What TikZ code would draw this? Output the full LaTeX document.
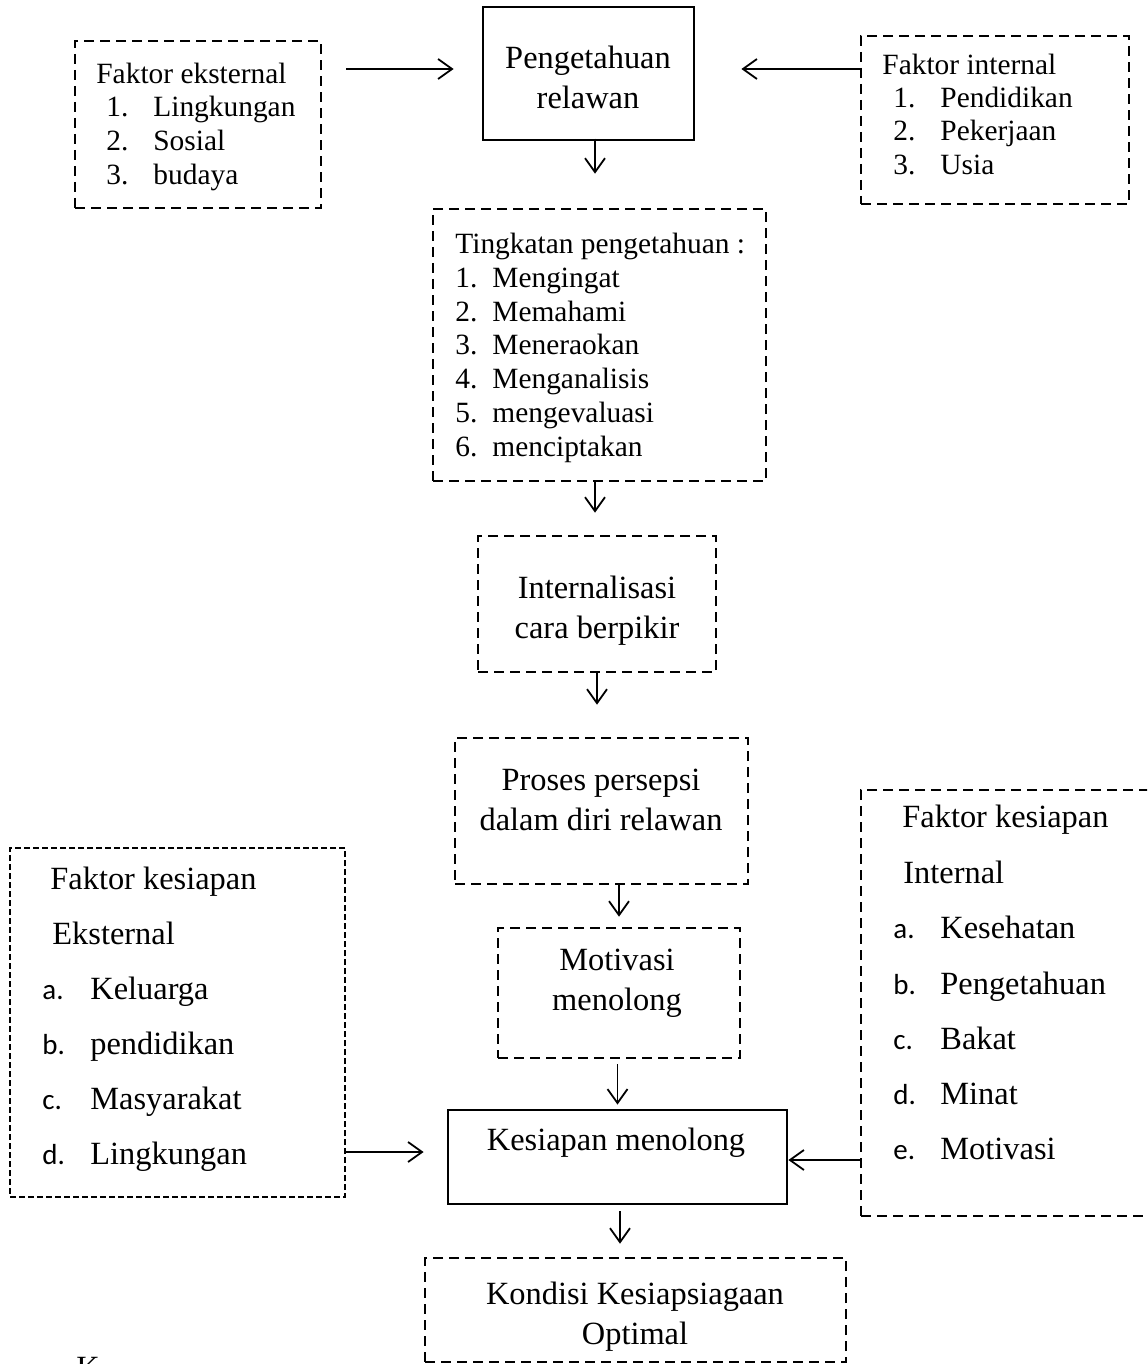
\documentclass[tikz,border=0pt]{standalone}
\usepackage{fontspec}
\setmainfont{Liberation Serif}
\newfontfamily\calibri{Carlito}
\usetikzlibrary{arrows.meta}

\tikzset{
  dbox/.style={draw, dash pattern=on 5pt off 3pt, line width=1.3pt, inner sep=0pt},
  finebox/.style={draw, dash pattern=on 3pt off 1.5pt, line width=1pt, inner sep=0pt},
  sbox/.style={draw, line width=1.4pt, inner sep=0pt},
  txt/.style={anchor=mid west, inner sep=0pt, yshift=-2.5pt, font=\fontsize{14.7}{17}\selectfont},
  bigtxt/.style={anchor=mid west, inner sep=0pt, yshift=-2.5pt, font=\fontsize{16.2}{20}\selectfont},
  ctxt/.style={align=center, inner sep=0pt, font=\fontsize{16.2}{20}\selectfont},
  lbl/.style={anchor=mid west, inner sep=0pt, yshift=-2.5pt, font=\calibri\fontsize{14.5}{17}\selectfont},
  arr/.style={-{Straight Barb[length=7pt,width=10pt]}, line width=0.9pt},
}

\begin{document}
\begin{tikzpicture}[x=0.5pt, y=-0.5pt]
    \useasboundingbox (0,0) rectangle (1147,1364);
    \clip (0,0) rectangle (1147,1364);

    % boxes
    \node[dbox, minimum width=123pt, minimum height=83.5pt] (eks) at (198,124.5) {};
    \node[sbox, minimum width=105.5pt, minimum height=66.5pt] (peng) at (588.5,73.5) {};
    \node[dbox, minimum width=134pt, minimum height=84pt] (intf) at (995,120) {};
    \node[dbox, minimum width=166.5pt, minimum height=136pt] (ting) at (599.5,345) {};
    \node[dbox, minimum width=119pt, minimum height=68pt] (inter) at (597,604) {};
    \node[dbox, minimum width=146.5pt, minimum height=73pt] (pros) at (601.5,811) {};
    \node[dbox, minimum width=121pt, minimum height=65pt] (moti) at (619,993) {};
    \node[sbox, minimum width=169.5pt, minimum height=47pt] (kes) at (617.5,1157) {};
    \node[dbox, minimum width=210.5pt, minimum height=52pt] (kond) at (635.5,1310) {};
    \node[finebox, minimum width=167.5pt, minimum height=174.5pt] (leks) at (177.5,1022.5) {};
    \node[dbox, minimum width=149.5pt, minimum height=213pt] (rint) at (1010.5,1003) {};

    % texts
    \node[ctxt] (peng-t) at (588,77) {Pengetahuan\\relawan};
    \node[ctxt] (inter-t) at (597,611) {Internalisasi\\cara berpikir};
    \node[ctxt] (pros-t) at (601,800) {Proses persepsi\\dalam diri relawan};
    \node[ctxt] (moti-t) at (617,983) {Motivasi\\menolong};
    \node[ctxt] (kes-t) at (616,1143) {Kesiapan menolong};
    \node[ctxt] (kond-t) at (635,1317) {Kondisi Kesiapsiagaan\\Optimal};

    \node[txt] (eks-h) at (96,74) {Faktor eksternal};
    \foreach \t [count=\i] in {Lingkungan,Sosial,budaya} {
        \node[txt] (eks-n\i) at (106,73+34*\i) {\i.};
        \node[txt] (eks-i\i) at (153,73+34*\i) {\t};
    }
    \node[txt] (intf-h) at (882,65) {Faktor internal};
    \foreach \t [count=\i] in {Pendidikan,Pekerjaan,Usia} {
        \node[txt] (intf-n\i) at (893,64+33.5*\i) {\i.};
        \node[txt] (intf-i\i) at (940,64+33.5*\i) {\t};
    }
    \node[txt] (ting-h) at (455,244) {Tingkatan pengetahuan :};
    \foreach \t [count=\i] in {Mengingat,Memahami,Meneraokan,Menganalisis,mengevaluasi,menciptakan} {
        \node[txt] (ting-n\i) at (455,244+33.8*\i) {\i.};
        \node[txt] (ting-i\i) at (492,244+33.8*\i) {\t};
    }
    \node[bigtxt] (leks-h1) at (50,880) {Faktor kesiapan};
    \node[bigtxt] (leks-h2) at (52,935) {Eksternal};
    \foreach \l/\t [count=\i] in {a/Keluarga,b/pendidikan,c/Masyarakat,d/Lingkungan} {
        \node[lbl] (leks-n\i) at (42,935+55*\i) {\l.};
        \node[bigtxt] (leks-i\i) at (90,935+55*\i) {\t};
    }
    \node[bigtxt] (rint-h1) at (902,818) {Faktor kesiapan};
    \node[bigtxt] (rint-h2) at (903,874) {Internal};
    \foreach \l/\t [count=\i] in {a/Kesehatan,b/Pengetahuan,c/Bakat,d/Minat,e/Motivasi} {
        \node[lbl] (rint-n\i) at (893,874+55.2*\i) {\l.};
        \node[bigtxt] (rint-i\i) at (940,874+55.2*\i) {\t};
    }
    \node[bigtxt, anchor=base west] (cut) at (76,1373) {K};

    % arrows
    \draw[arr, shorten <=12pt, shorten >=14pt] (eks.east |- 0,69) -- (peng.west |- 0,69);
    \draw[arr, shorten >=23pt] (intf.west |- 0,69) -- (peng.east |- 0,69);
    \draw[arr, shorten >=17pt] (ting.north -| 595,0) ++(0,-69) -- (ting.north -| 595,0);
    \draw[arr, shorten >=11pt] (ting.south -| 595,0) -- (inter.north -| 595,0);
    \draw[arr, shorten >=16pt] (inter.south) -- (inter.south |- pros.north);
    \draw[arr, shorten >=5pt] (moti.north |- pros.south) -- (moti.north);
    \draw[arr, shorten <=2.5pt, shorten >=2pt] (moti.south -| kes.north) -- (kes.north);
    \draw[arr, shorten <=3pt, shorten >=6.5pt] (kes.south -| 620,0) -- (kond.north -| 620,0);
    \draw[arr, shorten >=11.5pt] (leks.east |- 0,1152) -- (kes.west |- 0,1152);
    \draw[arr] (rint.west |- 0,1160) -- (kes.east |- 0,1160);
\end{tikzpicture}
\end{document}
